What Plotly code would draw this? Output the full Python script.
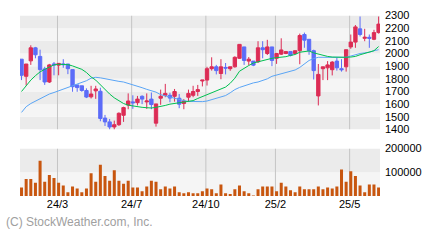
import plotly.graph_objects as go

# ---- data (weekly) ----
opens = [1955,1820,1942,2045,1977,1878,1775,1918,1908,1918,1917,1873,1752,1745,1708,1658,1705,1702,1490,1460,
         1420,1438,1512,1593,1618,1612,1662,1618,1640,1450,1647,1670,1670,1662,1647,1605,1655,1670,1700,1783,
         1790,1880,1895,1842,1890,1880,1895,1962,2052,1940,1940,1935,2045,2000,2052,1962,1995,2000,2015,2000,
         2022,2150,2112,2022,1665,1880,1887,1872,1940,1880,1895,2052,2090,2195,2120,2128,2112,2165]
highs = [1955,1917,2065,2052,2030,1895,1918,1933,1925,1955,1917,1873,1752,1745,1725,1745,1745,1730,1515,1483,
         1470,1535,1580,1685,1670,1665,1670,1685,1692,1602,1715,1760,1690,1720,1680,1640,1715,1745,1752,1790,
         1895,1970,1910,1955,1925,1895,1978,2075,2052,1972,1940,2097,2097,2108,2052,2005,2120,2020,2015,2022,
         2157,2165,2112,2030,1917,1895,1940,1940,1965,1955,2030,2150,2225,2292,2195,2150,2187,2292]
lows = [1790,1748,1910,1962,1790,1752,1767,1828,1828,1887,1837,1698,1698,1698,1648,1645,1642,1465,1428,1400,
        1400,1428,1460,1560,1563,1590,1600,1563,1560,1423,1595,1655,1615,1620,1568,1560,1620,1655,1665,1740,
        1747,1865,1835,1797,1835,1863,1888,1958,1910,1908,1900,1925,1962,1988,1900,1918,1988,1995,1977,1995,
        1915,2045,1990,1795,1590,1790,1790,1827,1865,1857,1857,2037,2045,2135,2097,2045,2105,2157]
closes = [1828,1917,2045,1990,1873,1775,1910,1910,1922,1912,1880,1738,1731,1708,1656,1680,1720,1487,1460,1420,
          1438,1528,1573,1625,1611,1640,1640,1625,1597,1602,1662,1685,1648,1700,1600,1625,1685,1700,1715,1790,
          1880,1895,1865,1895,1885,1895,1970,2072,1945,1955,1908,2045,2030,2052,1945,2000,2028,2015,1985,2022,
          2142,2105,2022,1865,1835,1895,1910,1932,1887,1872,2030,2090,2210,2150,2128,2120,2165,2232]
volumes = [36000,72000,72000,56000,148000,60000,88000,76000,56000,44000,16000,40000,32000,16000,32000,96000,
           60000,132000,84000,64000,108000,64000,52000,64000,36000,36000,20000,40000,64000,60000,28000,40000,
           32000,40000,16000,12000,16000,12000,12000,20000,32000,28000,12000,48000,12000,8000,28000,44000,
           20000,12000,1000,28000,40000,40000,40000,20000,56000,40000,24000,16000,40000,28000,28000,28000,
           40000,28000,36000,32000,40000,112000,60000,104000,84000,44000,16000,48000,48000,36000]
ma_short = [1700,1750,1790,1825,1855,1875,1895,1910,1915,1915,1912,1902,1890,1875,1850,1815,1790,1752,1720,1680,
            1650,1625,1605,1592,1585,1578,1575,1572,1570,1575,1580,1590,1600,1605,1610,1615,1622,1628,1645,1660,
            1675,1690,1705,1718,1735,1765,1805,1860,1885,1905,1925,1935,1945,1955,1962,1967,1970,1975,1985,1992,
            2010,2018,2020,2005,1995,1985,1977,1972,1970,1970,1970,1972,1977,1990,2002,2012,2022,2055]
ma_long = [1535,1580,1605,1625,1645,1662,1680,1692,1705,1718,1730,1742,1755,1770,1785,1805,1812,1808,1800,1792,
           1785,1780,1775,1765,1755,1742,1730,1717,1705,1695,1675,1665,1655,1645,1635,1628,1622,1620,1620,1620,
           1625,1635,1645,1655,1668,1690,1715,1732,1745,1755,1768,1775,1788,1800,1820,1830,1845,1855,1862,1870,
           1890,1915,1945,1960,1970,1970,1970,1968,1965,1967,1970,1980,1993,2000,2005,2010,2022,2030]
tick_index = [8, 24, 40, 55, 71]
tick_labels = ["24/3", "24/7", "24/10", "25/2", "25/5"]
price_ticks = [1400, 1500, 1600, 1700, 1800, 1900, 2000, 2100, 2200, 2300]
volume_ticks = [100000, 200000]

x = list(range(len(opens)))
RED = "#dc2c55"
BLUE = "#5c6cf8"

fig = go.Figure()
fig.add_trace(go.Candlestick(
    x=x, open=opens, high=highs, low=lows, close=closes,
    increasing=dict(line=dict(color=RED, width=1), fillcolor=RED),
    decreasing=dict(line=dict(color=BLUE, width=1), fillcolor=BLUE),
    whiskerwidth=0, xaxis="x", yaxis="y", hoverinfo="skip", showlegend=False))
fig.add_trace(go.Scatter(x=x, y=ma_long, mode="lines", line=dict(color="#5aa5f5", width=1),
                         xaxis="x", yaxis="y", hoverinfo="skip", showlegend=False))
fig.add_trace(go.Scatter(x=x, y=ma_short, mode="lines", line=dict(color="#00c050", width=1),
                         xaxis="x", yaxis="y", hoverinfo="skip", showlegend=False))
fig.add_trace(go.Bar(x=x, y=volumes, width=0.65, marker=dict(color="#c8560f", line=dict(width=0)),
                     xaxis="x2", yaxis="y2", hoverinfo="skip", showlegend=False))

shapes = []
# horizontal bands
for k in range(len(price_ticks) - 1):
    lo, hi = price_ticks[k], price_ticks[k + 1]
    shapes.append(dict(type="rect", xref="paper", yref="y", x0=20/440, x1=380/440, y0=lo, y1=hi,
                       fillcolor="#ebebeb" if k % 2 == 0 else "#f5f5f5", line=dict(width=0), layer="below"))
shapes.append(dict(type="rect", xref="paper", yref="y2", x0=20/440, x1=380/440, y0=0, y1=volume_ticks[0],
                   fillcolor="#f5f5f5", line=dict(width=0), layer="below"))
shapes.append(dict(type="rect", xref="paper", yref="y2", x0=20/440, x1=380/440, y0=volume_ticks[0], y1=volume_ticks[1],
                   fillcolor="#ebebeb", line=dict(width=0), layer="below"))
for t in tick_index:
    for yr, (a, b) in (("y", (1400, 2300)), ("y2", (0, 200000))):
        shapes.append(dict(type="line", xref="x", yref=yr, x0=t - 0.25, x1=t - 0.25, y0=a, y1=b,
                           line=dict(color="#c4c4c4", width=1), layer="below"))

font = dict(family="Liberation Sans, Arial, sans-serif", size=11, color="#000000")
xr = [-0.33, 77.3]
fig.update_layout(
    width=440, height=240, margin=dict(l=0, r=0, t=0, b=0),
    paper_bgcolor="white", plot_bgcolor="white",
    boxgap=0.15, boxgroupgap=0.15,
    font=font, shapes=shapes, hovermode=False,
    xaxis=dict(domain=[20/440, 380/440], range=xr, showgrid=False, zeroline=False, showticklabels=False,
               rangeslider=dict(visible=False), anchor="y"),
    yaxis=dict(domain=[1 - 130/240, 1 - 10/240], range=[1400, 2300], side="right", tickvals=price_ticks,
               showgrid=False, zeroline=False, ticks="", anchor="x", ticklabelstandoff=4),
    xaxis2=dict(domain=[20/440, 380/440], range=xr, showgrid=False, zeroline=False, anchor="y2",
                tickvals=[t - 0.25 for t in tick_index], ticktext=tick_labels, ticks="", ticklabelstandoff=0),
    yaxis2=dict(domain=[1 - 200/240, 1 - 150/240], range=[0, 200000], side="right", tickvals=volume_ticks,
                ticktext=[str(v) for v in volume_ticks], showgrid=False, zeroline=False, ticks="",
                anchor="x2", ticklabelstandoff=4),
    annotations=[dict(text="(C) StockWeather.com, Inc.", xref="paper", yref="paper", x=4/440, y=1 - 227/240,
                      xanchor="left", yanchor="middle", showarrow=False,
                      font=dict(family="Liberation Sans, Arial, sans-serif", size=12, color="#a0a0a0"))],
)
fig.write_html("out.html")
